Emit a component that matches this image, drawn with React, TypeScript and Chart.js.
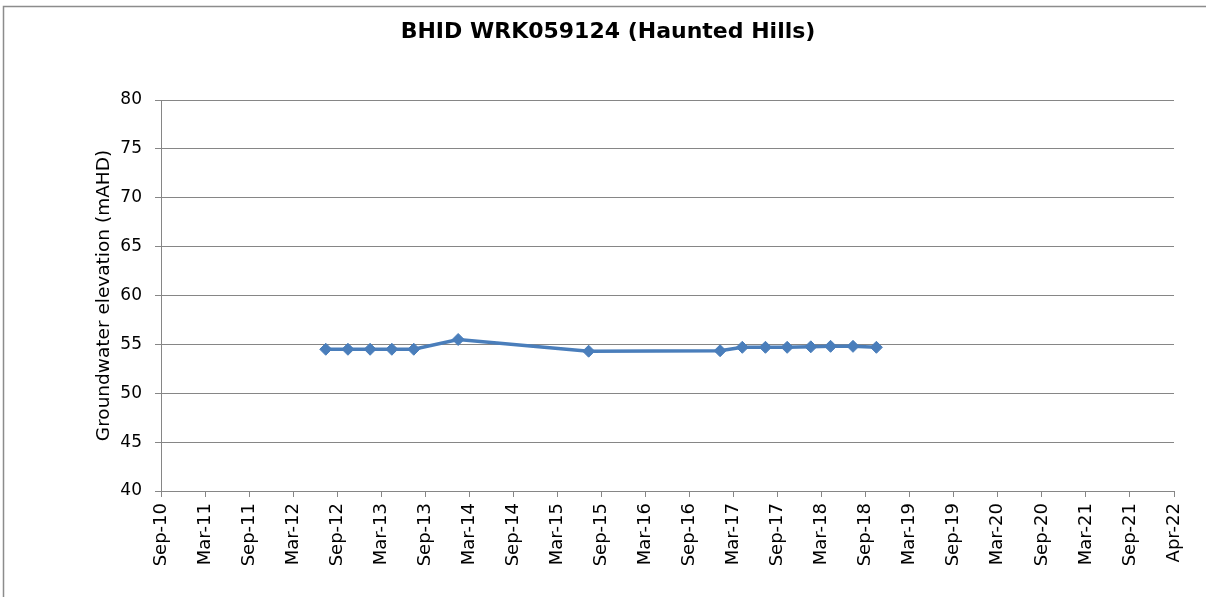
import React, { useEffect, useRef } from "react";
import { Chart, registerables } from "chart.js";

Chart.register(...registerables);

const chartTitle = "BHID WRK059124 (Haunted Hills)";
const yAxisTitle = "Groundwater elevation (mAHD)";

const xTickLabels = [
  "Sep-10", "Mar-11", "Sep-11", "Mar-12", "Sep-12", "Mar-13", "Sep-13", "Mar-14",
  "Sep-14", "Mar-15", "Sep-15", "Mar-16", "Sep-16", "Mar-17", "Sep-17", "Mar-18",
  "Sep-18", "Mar-19", "Sep-19", "Mar-20", "Sep-20", "Mar-21", "Sep-21", "Apr-22",
];
const xAxisStartDate = "2010-09-01";
const xTickStepDays = 182.6;

const sampleDates = [
  "2012-07-15", "2012-10-15", "2013-01-15", "2013-04-15", "2013-07-15",
  "2014-01-15", "2015-07-10", "2017-01-05", "2017-04-07", "2017-07-12",
  "2017-10-10", "2018-01-16", "2018-04-08", "2018-07-10", "2018-10-15",
];
const groundwaterLevels = [
  54.5, 54.5, 54.5, 54.5, 54.5,
  55.5, 54.3, 54.35, 54.7, 54.7,
  54.7, 54.75, 54.8, 54.8, 54.7,
];

const yMin = 40;
const yMax = 80;
const yStep = 5;

const toDays = (s: string) => {
  const [y, m, d] = s.split("-").map(Number);
  return Date.UTC(y, m - 1, d) / 86400000;
};

const FONT = "'DejaVu Sans', sans-serif";

const frameAndTitlePlugin = {
  id: "frameAndTitle",
  beforeDraw(chart: any) {
    const ctx = chart.ctx;
    ctx.save();
    ctx.strokeStyle = "#8c8c8c";
    ctx.lineWidth = 1.5;
    ctx.beginPath();
    ctx.moveTo(3.5, chart.height + 5);
    ctx.lineTo(3.5, 6.5);
    ctx.lineTo(chart.width + 5, 6.5);
    ctx.stroke();
    ctx.fillStyle = "#000";
    ctx.font = `bold 22px ${FONT}`;
    ctx.textAlign = "center";
    ctx.textBaseline = "middle";
    ctx.fillText(chartTitle, 608, 32.5);
    ctx.restore();
  },
};

export default function App() {
  const canvasRef = useRef<HTMLCanvasElement | null>(null);

  useEffect(() => {
    if (!canvasRef.current) return;
    const start = toDays(xAxisStartDate);
    const tickValues = xTickLabels.map((_, i) => start + i * xTickStepDays);
    const points = sampleDates.map((d, i) => ({ x: toDays(d), y: groundwaterLevels[i] }));

    const chart = new Chart(canvasRef.current, {
      type: "line",
      data: {
        datasets: [
          {
            data: points,
            borderColor: "#4a7ebb",
            backgroundColor: "#4a7ebb",
            borderWidth: 3.5,
            pointStyle: "rectRot",
            pointRadius: 6,
            pointBorderWidth: 1,
            pointBorderColor: "#4a7ebb",
            pointBackgroundColor: "#4a7ebb",
            tension: 0,
          },
        ],
      },
      options: {
        animation: false,
        responsive: false,
        layout: { padding: { left: 0, right: 32, top: 100, bottom: 0 } },
        plugins: {
          legend: { display: false },
          tooltip: { enabled: false },
          title: { display: false },
        },
        scales: {
          x: {
            type: "linear",
            min: tickValues[0],
            max: tickValues[tickValues.length - 1],
            afterBuildTicks: (scale: any) => {
              scale.ticks = tickValues.map((v) => ({ value: v }));
            },
            afterFit: (scale: any) => {
              scale.height = 106;
            },
            grid: {
              drawOnChartArea: false,
              drawTicks: true,
              tickLength: 6,
              color: "#868686",
            },
            border: { display: true, color: "#868686" },
            ticks: {
              autoSkip: false,
              maxRotation: 90,
              minRotation: 90,
              padding: 6,
              color: "#000",
              font: { family: FONT, size: 18 },
              callback: (_v: any, i: number) => xTickLabels[i],
            },
          },
          y: {
            min: yMin,
            max: yMax,
            afterFit: (scale: any) => {
              scale.width = 161;
            },
            grid: {
              color: "#868686",
              drawTicks: true,
              tickLength: 6,
            },
            border: { display: true, color: "#868686" },
            ticks: {
              stepSize: yStep,
              padding: 13,
              color: "#000",
              font: { family: FONT, size: 17 },
            },
            title: {
              display: true,
              text: yAxisTitle,
              color: "#000",
              font: { family: FONT, size: 18.5 },
              padding: { top: 93, bottom: 0 },
            },
          },
        },
      },
      plugins: [frameAndTitlePlugin],
    });
    return () => chart.destroy();
  }, []);

  return (
    <div style={{ position: "fixed", left: 0, top: 0, width: 1206, height: 597, background: "#fff" }}>
      <canvas ref={canvasRef} width={1206} height={597} style={{ display: "block" }} />
    </div>
  );
}
